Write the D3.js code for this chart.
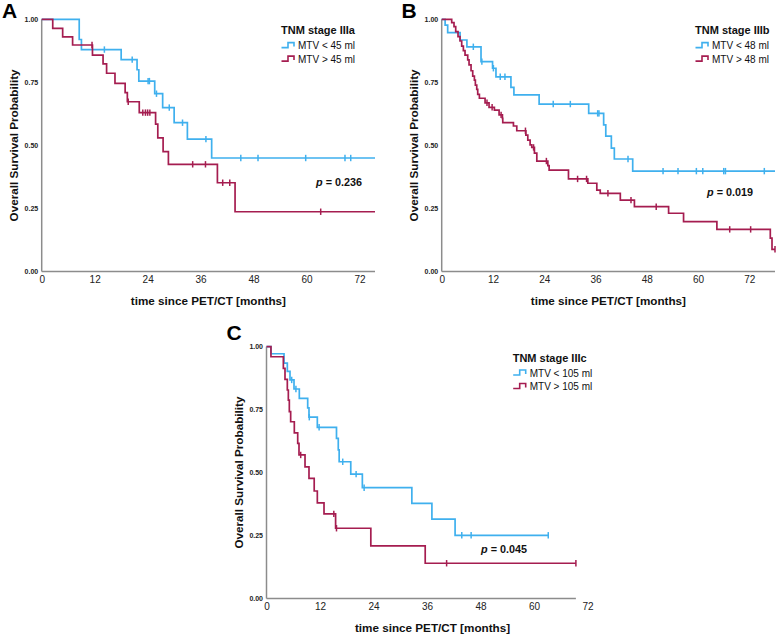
<!DOCTYPE html>
<html><head><meta charset="utf-8">
<script src="https://cdn.jsdelivr.net/npm/d3@7/dist/d3.min.js"></script>
<style>body{margin:0;background:#fff}svg{display:block;font-family:"Liberation Sans",Arial,sans-serif}</style>
</head><body><svg id="c" width="777" height="636"></svg>
<script>
// ---------- data ----------
const yTicks = [0, 0.25, 0.5, 0.75, 1];
const xTicks = [0, 12, 24, 36, 48, 60, 72];
const xTitle = "time since PET/CT [months]";
const yTitle = "Overall Survival Probability";

// Panel A (TNM stage IIIa)
const aTitle = "TNM stage IIIa";
const aLabels = ["MTV < 45 ml", "MTV > 45 ml"];
const aP = "0.236";
const aLowT = [0, 8.5, 9.0, 18.0, 21.6, 22.0, 25.6, 27.4, 30.0, 33.0, 38.5];
const aLowS = [1.0, 0.92, 0.88, 0.84, 0.80, 0.755, 0.705, 0.65, 0.59, 0.525, 0.45];
const aLowC = [14.2, 20.5, 24.1, 24.4, 26.0, 28.9, 31.9, 37.2, 45.1, 49.0, 59.8, 68.7, 70.0];
const aLowEnd = 75.5;
const aHighT = [0, 2.5, 4.75, 7.0, 11.5, 13.9, 14.7, 16.6, 18.9, 19.4, 22.1, 25.8, 26.3, 27.5, 28.7, 39.8, 43.8];
const aHighS = [1.0, 0.964, 0.93, 0.898, 0.858, 0.823, 0.786, 0.746, 0.709, 0.673, 0.63, 0.584, 0.53, 0.475, 0.425, 0.352, 0.237];
const aHighC = [11.4, 19.6, 22.9, 23.5, 24.0, 24.5, 34.2, 37.1, 41.0, 42.6, 63.2];
const aHighEnd = 75.5;

// Panel B (TNM stage IIIb)
const bTitle = "TNM stage IIIb";
const bLabels = ["MTV < 48 ml", "MTV > 48 ml"];
const bP = "0.019";
const bLowT = [0, 0.8, 1.4, 4.3, 5.9, 9.2, 11.9, 12.7, 16.2, 16.9, 22.8, 34.4, 37.9, 38.4, 39.7, 40.4, 44.7];
const bLowS = [1.0, 0.977, 0.947, 0.918, 0.891, 0.832, 0.806, 0.772, 0.73, 0.70, 0.664, 0.627, 0.581, 0.537, 0.489, 0.446, 0.398];
const bLowC = [7.4, 9.4, 12.1, 13.7, 14.8, 26.1, 30.1, 36.5, 36.8, 43.6, 51.8, 55.3, 59.6, 61.1, 66.0, 66.4, 75.5];
const bLowEnd = 78;
const bHighT = [0, 2.34, 2.88, 3.28, 3.82, 4.29, 4.68, 5.07, 5.46, 6.09, 6.40, 6.87, 7.26, 7.65, 7.88, 8.20, 8.43, 8.82, 10.15, 11.08, 12.33, 13.43, 14.21, 14.29, 16.79, 17.57, 19.7, 20.15, 20.69, 21.08, 21.7, 22.26, 24.84, 25.14, 29.67, 34.2, 36.3, 37.1, 41.8, 45.1, 53.1, 56.6, 64.4, 76.9, 77.3];
const bHighS = [1.0, 0.987, 0.971, 0.951, 0.931, 0.914, 0.894, 0.876, 0.858, 0.839, 0.819, 0.796, 0.775, 0.759, 0.739, 0.722, 0.702, 0.687, 0.669, 0.651, 0.640, 0.621, 0.607, 0.590, 0.577, 0.558, 0.541, 0.521, 0.502, 0.492, 0.469, 0.438, 0.420, 0.402, 0.367, 0.350, 0.323, 0.31, 0.283, 0.257, 0.231, 0.198, 0.167, 0.132, 0.088];
const bHighC = [10.6, 11.8, 13.9, 19.6, 21.5, 24.5, 31.8, 33.9, 38.9, 44.3, 50.2, 67.4, 72.3, 78];
const bHighEnd = 78;

// Panel C (TNM stage IIIc)
const cTitle = "TNM stage IIIc";
const cLabels = ["MTV < 105 ml", "MTV > 105 ml"];
const cP = "0.045";
const cLowT = [0, 1.0, 3.93, 4.67, 5.27, 6.17, 7.36, 9.24, 9.53, 11.4, 15.7, 16.1, 16.3, 18.9, 21.5, 32.6, 37.1, 42.3];
const cLowS = [1.0, 0.972, 0.935, 0.902, 0.868, 0.832, 0.795, 0.757, 0.72, 0.68, 0.636, 0.59, 0.543, 0.494, 0.44, 0.378, 0.315, 0.251];
const cLowC = [5.65, 6.6, 9.6, 11.8, 17.1, 20.1, 21.9, 43.8, 45.9, 63.2];
const cLowEnd = 63.2;
const cHighT = [0, 1.0, 3.78, 4.15, 4.67, 4.9, 5.12, 5.42, 6.24, 7.0, 7.29, 8.64, 9.53, 10.7, 11.4, 12.9, 15.5, 23.4, 35.6];
const cHighS = [1.0, 0.96, 0.914, 0.87, 0.828, 0.788, 0.742, 0.702, 0.658, 0.616, 0.57, 0.523, 0.477, 0.427, 0.38, 0.336, 0.279, 0.209, 0.14];
const cHighC = [7.67, 15.1, 15.7, 40.4, 69.4];
const cHighEnd = 69.4;

// ---------- style / layout ----------
const BLUE = "#3fb0ee", RED = "#a51d50", AXIS = "#8c8c8c";
const panels = [
  {letter:"A", left:41.7, top:19.3, w:333.3, h:252.2, xmax:75.5, titleDx:166.7, title:aTitle, labels:aLabels, p:aP,
   legX:281, pX:339, pY:182, letterX:2, letterY:18,
   series:[{T:aLowT,S:aLowS,C:aLowC,end:aLowEnd,col:BLUE},{T:aHighT,S:aHighS,C:aHighC,end:aHighEnd,col:RED}]},
  {letter:"B", left:441.7, top:19.3, w:333.3, h:252.2, xmax:78, titleDx:166.7, title:bTitle, labels:bLabels, p:bP,
   legX:695, pX:730, pY:192, letterX:401.5, letterY:18,
   series:[{T:bLowT,S:bLowS,C:bLowC,end:bLowEnd,col:BLUE},{T:bHighT,S:bHighS,C:bHighC,end:bHighEnd,col:RED}]},
  {letter:"C", left:266.5, top:346.7, w:309.4, h:251.8, xmax:69.4, titleDx:166, title:cTitle, labels:cLabels, p:cP,
   legX:512.7, pX:504, pY:549, letterX:226.5, letterY:340,
   series:[{T:cLowT,S:cLowS,C:cLowC,end:cLowEnd,col:BLUE},{T:cHighT,S:cHighS,C:cHighC,end:cHighEnd,col:RED}]}
];

const svg = d3.select("#c");

panels.forEach(P => {
  const x = d3.scaleLinear().domain([0, P.xmax]).range([P.left, P.left + P.w]);
  const y = d3.scaleLinear().domain([0, 1]).range([P.top + P.h, P.top]);
  const g = svg.append("g");

  // axes
  const xAx = g.append("g").attr("transform", `translate(0,${y(0)})`)
    .call(d3.axisBottom(x).tickValues(xTicks).tickSize(0).tickPadding(4).tickFormat(d3.format("d")));
  xAx.select(".domain").attr("stroke", AXIS).attr("stroke-width", 1.5).attr("d", `M${x(0)},0H${x(P.xmax)}`);
  xAx.selectAll("text").attr("font-size", 10).attr("fill", "#222").attr("font-family", "Liberation Sans, Arial, sans-serif");

  const yAx = g.append("g").attr("transform", `translate(${x(0)},0)`)
    .call(d3.axisLeft(y).tickValues(yTicks).tickSize(0).tickPadding(3.5).tickFormat(d3.format(".2f")));
  yAx.select(".domain").attr("stroke", AXIS).attr("stroke-width", 1.5).attr("d", `M0,${y(1)}V${y(0)}`);
  yAx.selectAll("text").attr("font-size", 7).attr("font-weight", "bold").attr("fill", "#222")
    .attr("font-family", "Liberation Sans, Arial, sans-serif");

  // titles
  g.append("text").attr("x", x(0) + P.titleDx).attr("y", y(0) + 33.5).attr("text-anchor", "middle")
    .attr("font-size", 11.7).attr("font-weight", "bold").attr("fill", "#111").text(xTitle);
  g.append("text").attr("transform", `translate(${x(0) - 27.5},${P.top + P.h / 2}) rotate(-90)`)
    .attr("text-anchor", "middle").attr("dy", "0.35em")
    .attr("font-size", 11.7).attr("font-weight", "bold").attr("fill", "#111").text(yTitle);
  g.append("text").attr("x", P.letterX).attr("y", P.letterY).attr("font-size", 21).attr("font-weight", "bold")
    .attr("fill", "#000").text(P.letter);

  // curves
  P.series.forEach(s => {
    const pts = s.T.map((t, i) => [t, s.S[i]]);
    pts.push([s.end, s.S[s.S.length - 1]]);
    g.append("path").attr("d", d3.line().x(d => x(d[0])).y(d => y(d[1])).curve(d3.curveStepAfter)(pts))
      .attr("fill", "none").attr("stroke", s.col).attr("stroke-width", 1.7);
    const surv = t => { let v = s.S[0]; s.T.forEach((tt, i) => { if (tt <= t) v = s.S[i]; }); return v; };
    g.selectAll(null).data(s.C).enter().append("line")
      .attr("x1", d => x(d)).attr("x2", d => x(d))
      .attr("y1", d => y(surv(d)) - 3.2).attr("y2", d => y(surv(d)) + 3.2)
      .attr("stroke", s.col).attr("stroke-width", 1.5);
  });

  // legend
  const lt = P.top;
  g.append("text").attr("x", P.legX).attr("y", lt + 14.8).attr("font-size", 11).attr("font-weight", "bold")
    .attr("fill", "#111").text(P.title);
  [BLUE, RED].forEach((col, i) => {
    const cy = lt + 26.3 + i * 13.5;
    const x0 = P.legX + 0.5;
    g.append("path").attr("d", `M${x0},${cy + 2}H${x0 + 6.5}V${cy - 3}H${x0 + 12.5}V${cy + 1}`)
      .attr("fill", "none").attr("stroke", col).attr("stroke-width", 1.6);
    g.append("text").attr("x", x0 + 16.5).attr("y", cy).attr("dy", "0.35em").attr("font-size", 10)
      .attr("fill", "#111").text(P.labels[i]);
  });

  // p value
  const pt = g.append("text").attr("x", P.pX).attr("y", P.pY).attr("dy", "0.35em").attr("text-anchor", "middle")
    .attr("font-size", 10.8).attr("font-weight", "bold").attr("fill", "#111");
  pt.append("tspan").attr("font-style", "italic").text("p");
  pt.append("tspan").text(" = " + P.p);
});
</script></body></html>
